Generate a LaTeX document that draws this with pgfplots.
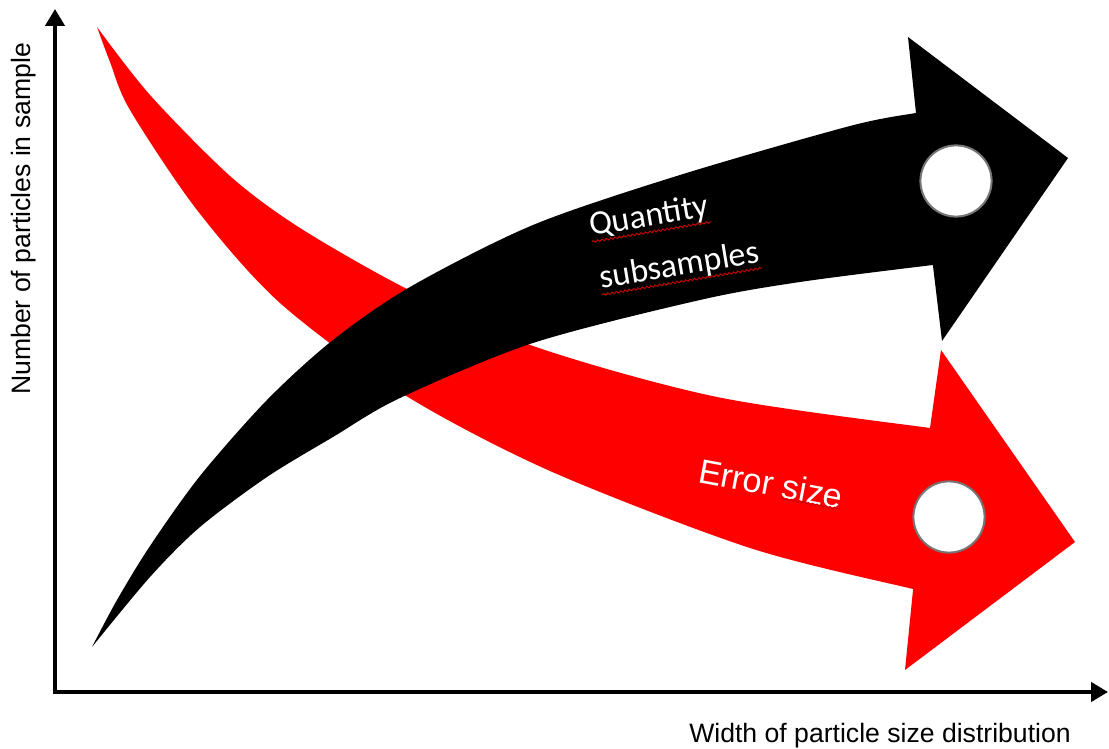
\documentclass[border=0pt]{standalone}
\usepackage{fontspec}
\setmainfont{Liberation Sans}
\newfontfamily\calibri{Carlito}
\usepackage{pgfplots}
\pgfplotsset{compat=1.18}
\usepgfplotslibrary{fillbetween}
\usetikzlibrary{arrows.meta,decorations.pathmorphing,calc}
\definecolor{ring}{RGB}{118,118,118}
\begin{document}
\begin{tikzpicture}
\begin{axis}[width=554.5pt,height=374.5pt,scale only axis,
  xmin=0,xmax=1109,ymin=-749,ymax=0,hide axis,clip=false]
% axes of the diagram
\addplot[line width=2.2pt,line join=miter,
  {Triangle[width=9.5pt,length=8.5pt]}-{Triangle[width=9.5pt,length=8.5pt]}]
  coordinates {(55,-9) (55,-692) (1108,-692)};
% red arrow (Error size)
\addplot[draw=none,smooth,name path=ru] coordinates {
(97,-27) (150,-95) (230,-176) (300,-228) (407,-289) (533,-346)
(717,-397) (930,-428) (940,-428)};
\addplot[draw=none,smooth,name path=rl] coordinates {
(97,-27) (110,-62) (130,-110) (197,-210) (280,-303) (403,-394)
(550,-471) (750,-548) (913,-589) (925,-591)};
\addplot[fill=red,draw=none] fill between[of=ru and rl];
\addplot[fill=red,draw=none] coordinates {
(930,-428) (941,-350) (1075,-542) (905,-670) (913,-590)};
% black arrow (Quantity subsamples)
\addplot[draw=none,smooth,name path=bu] coordinates {
(92,-647) (117,-600) (150,-546) (200,-476) (267,-400) (333,-340)
(410,-287) (533,-225) (680,-175) (850,-126) (916,-113) (926,-112)};
\addplot[draw=none,smooth,name path=bl] coordinates {
(92,-647) (150,-577) (200,-527) (267,-477) (333,-437) (400,-398)
(533,-343) (700,-300) (800,-282) (933,-265) (943,-265)};
\addplot[fill=black,draw=none] fill between[of=bu and bl];
\addplot[fill=black,draw=none] coordinates {
(916,-113) (908,-37) (1068,-158) (942,-341) (933,-266)};
% circles
\addplot[only marks,mark=*,mark size=17.8pt,
  mark options={fill=white,draw=ring,line width=1pt}]
  coordinates {(956,-181) (949,-517)};
% texts
\node[rotate=90,anchor=base,font=\fontsize{13.3}{16}\selectfont]
  at (31,-219) {Number of particles in sample};
\node[anchor=base,font=\fontsize{13.3}{16}\selectfont]
  at (880,-743) {Width of particle size distribution};
\node[rotate=9.5,anchor=base west,inner sep=0pt,text=white,
  font=\calibri\fontsize{17}{20}\selectfont] (q) at (591,-236) {Quantity};
\node[rotate=9.5,anchor=base west,inner sep=0pt,text=white,
  font=\calibri\fontsize{17}{20}\selectfont] (s) at (601,-289) {subsamples};
\node[rotate=-10.5,anchor=base west,inner sep=0pt,text=white,
  font=\fontsize{17}{20}\selectfont] (e) at (697,-482) {Error size};
\draw[red!80!black,line width=0.45pt,decorate,
  decoration={snake,amplitude=0.5pt,segment length=2.2pt}]
  (q.south west) -- (q.south east);
\draw[red!80!black,line width=0.45pt,decorate,
  decoration={snake,amplitude=0.5pt,segment length=2.2pt}]
  (s.south west) -- (s.south east);
\draw[red!80!black,line width=0.45pt,decorate,
  decoration={snake,amplitude=0.5pt,segment length=2.2pt}]
  ($(e.south west)!0.585!(e.south east)$) -- (e.south east);
\end{axis}
\pgfresetboundingbox
\path[use as bounding box] (current axis.south west) rectangle (current axis.north east);
\end{tikzpicture}
\end{document}
